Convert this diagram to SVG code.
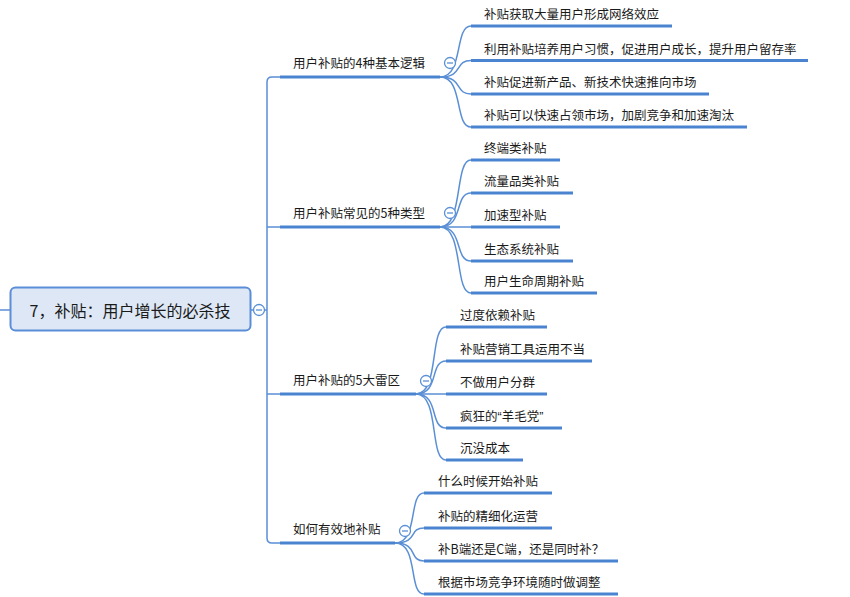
<svg xmlns="http://www.w3.org/2000/svg" width="850" height="597" viewBox="0 0 850 597">
<style>
  .t{font-family:"Noto Sans CJK SC","Liberation Sans",sans-serif;font-size:12.5px;fill:#1a1a1a}
  .main{font-family:"Noto Sans CJK SC","Liberation Sans",sans-serif;font-size:16px;fill:#1a1a1a}
  .q{font-family:"Liberation Sans",sans-serif}
  .thin{fill:none;stroke:#5a8fd6;stroke-width:1.5}
  .thick{fill:none;stroke:#4a84d0;stroke-width:3.2}
  .btn{fill:#ffffff;stroke:#5a8fd6;stroke-width:1.3}
  .minus{stroke:#5a8fd6;stroke-width:1.3}
</style>
<rect width="850" height="597" fill="#ffffff"/>
<g id="connectors">
  <path class="thin" d="M0 310 H10"/>
  <path class="thin" d="M251 310 H267"/>
  <path class="thin" d="M280 77 H272 Q267 77 267 82 V538 Q267 543 272 543 H280"/>
  <path class="thin" d="M267 227 H280"/>
  <path class="thin" d="M267 394 H280"/>
  <path class="thin" d="M440 77 C464 77,454 26,471 26"/>
  <path class="thin" d="M440 77 C464 77,454 60.5,471 60.5"/>
  <path class="thin" d="M440 77 C464 77,454 94,471 94"/>
  <path class="thin" d="M440 77 C464 77,454 127,471 127"/>
  <path class="thin" d="M440 227 C464 227,454 160,471 160"/>
  <path class="thin" d="M440 227 C464 227,454 193,471 193"/>
  <path class="thin" d="M440 227 H471"/>
  <path class="thin" d="M440 227 C464 227,454 261,471 261"/>
  <path class="thin" d="M440 227 C464 227,454 293,471 293"/>
  <path class="thin" d="M416 394 C440 394,429 327,446 327"/>
  <path class="thin" d="M416 394 C440 394,429 361,446 361"/>
  <path class="thin" d="M416 394 H446"/>
  <path class="thin" d="M416 394 C440 394,429 428,446 428"/>
  <path class="thin" d="M416 394 C440 394,429 460,446 460"/>
  <path class="thin" d="M395 543 C419 543,408 493,424 493"/>
  <path class="thin" d="M395 543 C419 543,408 528,424 528"/>
  <path class="thin" d="M395 543 C419 543,408 561,424 561"/>
  <path class="thin" d="M395 543 C419 543,408 594,424 594"/>
</g>
<g id="root">
  <rect x="10.5" y="287.5" width="240" height="43" rx="5" fill="#dde7f5" stroke="#5b8ed8" stroke-width="2"/>
  <text class="main" x="130" y="317" text-anchor="middle">7，补贴：用户增长的必杀技</text>
  <circle class="btn" cx="259" cy="310" r="5.5"/>
  <path class="minus" d="M256 310 H262"/>
</g>
<g id="b1">
  <path class="thick" d="M280 77 H440"/>
  <text class="t" x="293" y="68">用户补贴的4种基本逻辑</text>
  <circle class="btn" cx="450" cy="63" r="5.5"/>
  <path class="minus" d="M447 63 H453"/>
</g>
<g id="b1c1"><path class="thick" d="M471 26 H672"/><text class="t" x="484" y="19">补贴获取大量用户形成网络效应</text></g>
<g id="b1c2"><path class="thick" d="M471 60.5 H808"/><text class="t" x="484" y="53.5">利用补贴培养用户习惯，促进用户成长，提升用户留存率</text></g>
<g id="b1c3"><path class="thick" d="M471 94 H709"/><text class="t" x="484" y="87">补贴促进新产品、新技术快速推向市场</text></g>
<g id="b1c4"><path class="thick" d="M471 127 H747"/><text class="t" x="484" y="120">补贴可以快速占领市场，加剧竞争和加速淘汰</text></g>
<g id="b2">
  <path class="thick" d="M280 227 H440"/>
  <text class="t" x="293" y="218">用户补贴常见的5种类型</text>
  <circle class="btn" cx="450" cy="213" r="5.5"/>
  <path class="minus" d="M447 213 H453"/>
</g>
<g id="b2c1"><path class="thick" d="M471 160 H560"/><text class="t" x="484" y="153">终端类补贴</text></g>
<g id="b2c2"><path class="thick" d="M471 193 H573"/><text class="t" x="484" y="186">流量品类补贴</text></g>
<g id="b2c3"><path class="thick" d="M471 227 H560"/><text class="t" x="484" y="220">加速型补贴</text></g>
<g id="b2c4"><path class="thick" d="M471 261 H573"/><text class="t" x="484" y="254">生态系统补贴</text></g>
<g id="b2c5"><path class="thick" d="M471 293 H597"/><text class="t" x="484" y="286">用户生命周期补贴</text></g>
<g id="b3">
  <path class="thick" d="M280 394 H416"/>
  <text class="t" x="293" y="385">用户补贴的5大雷区</text>
  <circle class="btn" cx="426" cy="381" r="5.5"/>
  <path class="minus" d="M423 381 H429"/>
</g>
<g id="b3c1"><path class="thick" d="M446 327 H547"/><text class="t" x="460" y="320">过度依赖补贴</text></g>
<g id="b3c2"><path class="thick" d="M446 361 H592"/><text class="t" x="460" y="354">补贴营销工具运用不当</text></g>
<g id="b3c3"><path class="thick" d="M446 394 H547"/><text class="t" x="460" y="387">不做用户分群</text></g>
<g id="b3c4"><path class="thick" d="M446 428 H562"/><text class="t" x="460" y="421">疯狂的<tspan class="q">“</tspan>羊毛党<tspan class="q">”</tspan></text></g>
<g id="b3c5"><path class="thick" d="M446 460 H523"/><text class="t" x="460" y="453">沉没成本</text></g>
<g id="b4">
  <path class="thick" d="M280 543 H395"/>
  <text class="t" x="293" y="534">如何有效地补贴</text>
  <circle class="btn" cx="405" cy="531" r="5.5"/>
  <path class="minus" d="M402 531 H408"/>
</g>
<g id="b4c1"><path class="thick" d="M424 493 H552"/><text class="t" x="438" y="486">什么时候开始补贴</text></g>
<g id="b4c2"><path class="thick" d="M424 528 H552"/><text class="t" x="438" y="521">补贴的精细化运营</text></g>
<g id="b4c3"><path class="thick" d="M424 561 H618"/><text class="t" x="438" y="554">补B端还是C端，还是同时补？</text></g>
<g id="b4c4"><path class="thick" d="M424 594 H618"/><text class="t" x="438" y="587">根据市场竞争环境随时做调整</text></g>
</svg>
